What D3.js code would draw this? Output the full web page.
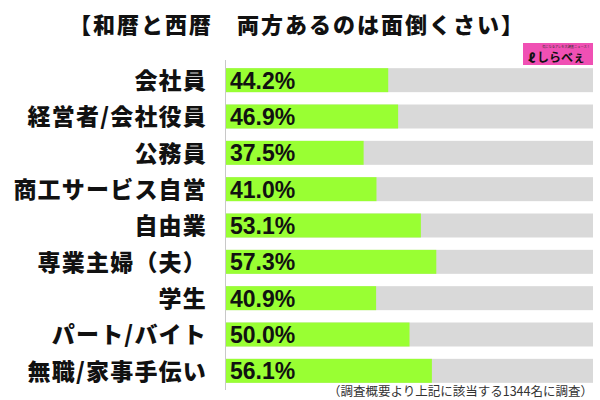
<!DOCTYPE html>
<html>
<head>
<meta charset="utf-8">
<script src="https://cdn.jsdelivr.net/npm/d3@7"></script>
<style>
  html, body { margin: 0; padding: 0; background: #fff; }
  svg { display: block; }
  .cjk { font-family: "Noto Sans CJK JP", "Noto Sans", sans-serif; }
</style>
</head>
<body>
<svg id="chart" width="600" height="400"></svg>
<script>
const title = "【和暦と西暦　両方あるのは面倒くさい】";
const categories = ["会社員", "経営者/会社役員", "公務員", "商工サービス自営", "自由業", "専業主婦（夫）", "学生", "パート/バイト", "無職/家事手伝い"];
const values = [44.2, 46.9, 37.5, 41.0, 53.1, 57.3, 40.9, 50.0, 56.1];
const footnote = "（調査概要より上記に該当する1344名に調査）";
const logoText = "しらべぇ";
const logoSub = "気になるアレを大調査ニュース！";

const data = categories.map((c, i) => ({ cat: c, val: values[i] }));

const svg = d3.select("#chart");

const x = d3.scaleLinear().domain([0, 100]).range([226, 593]);
const y = d3.scaleBand().domain(categories).range([62, 389]).paddingInner(0.34).paddingOuter(0.17);

// title
svg.append("text")
  .attr("class", "cjk")
  .attr("x", 297).attr("y", 25)
  .attr("dy", "0.38em")
  .attr("text-anchor", "middle")
  .style("font-size", "22px").style("font-weight", 900)
  .style("letter-spacing", "2px")
  .attr("fill", "#111")
  .text(title);

// logo
const logo = svg.append("g");
logo.append("rect").attr("x", 523).attr("y", 43).attr("width", 70).attr("height", 22).attr("fill", "#f050b4");
logo.append("text").attr("class", "cjk").attr("x", 566).attr("y", 47.5)
  .attr("text-anchor", "middle").style("font-size", "3.2px").attr("fill", "#333").text(logoSub);
logo.append("text").attr("class", "cjk").attr("x", 528).attr("y", 63)
  .style("font-size", "13px").style("font-weight", 900).attr("fill", "#111").text("ℓ");
logo.append("text").attr("class", "cjk").attr("x", 537).attr("y", 62)
  .style("font-size", "12px").style("font-weight", 700).attr("fill", "#111").text(logoText);

// background bars
svg.append("g").selectAll("rect").data(data).join("rect")
  .attr("x", x(0)).attr("y", d => y(d.cat))
  .attr("width", x(100) - x(0)).attr("height", y.bandwidth())
  .attr("fill", "#d9d9d9");

// value bars
svg.append("g").selectAll("rect").data(data).join("rect")
  .attr("x", x(0)).attr("y", d => y(d.cat))
  .attr("width", d => x(d.val) - x(0)).attr("height", y.bandwidth())
  .attr("fill", "#99ff33");

// axis line
svg.append("line").attr("x1", 225.5).attr("x2", 225.5).attr("y1", 60).attr("y2", 390)
  .attr("stroke", "#c8c8c8").attr("stroke-width", 1);

// category labels
svg.append("g").selectAll("text").data(data).join("text")
  .attr("class", "cjk")
  .attr("x", 207).attr("y", d => y(d.cat) + y.bandwidth() / 2)
  .attr("dy", "0.38em")
  .attr("text-anchor", "end")
  .style("font-size", "23px").style("font-weight", 900)
  .style("letter-spacing", "1.2px")
  .attr("fill", "#111")
  .text(d => d.cat);

// value labels
svg.append("g").selectAll("text").data(data).join("text")
  .attr("x", 230).attr("y", d => y(d.cat) + y.bandwidth() / 2)
  .attr("dy", "0.37em")
  .style("font-family", "'Liberation Sans', Arial, sans-serif")
  .style("font-size", "23px").style("font-weight", 700)
  .attr("fill", "#111")
  .text(d => d.val.toFixed(1) + "%");

// footnote
svg.append("text").attr("class", "cjk")
  .attr("x", 593).attr("y", 392).attr("dy", "0.35em")
  .attr("text-anchor", "end")
  .style("font-size", "12.5px")
  .attr("fill", "#333")
  .text(footnote);
</script>
</body>
</html>
